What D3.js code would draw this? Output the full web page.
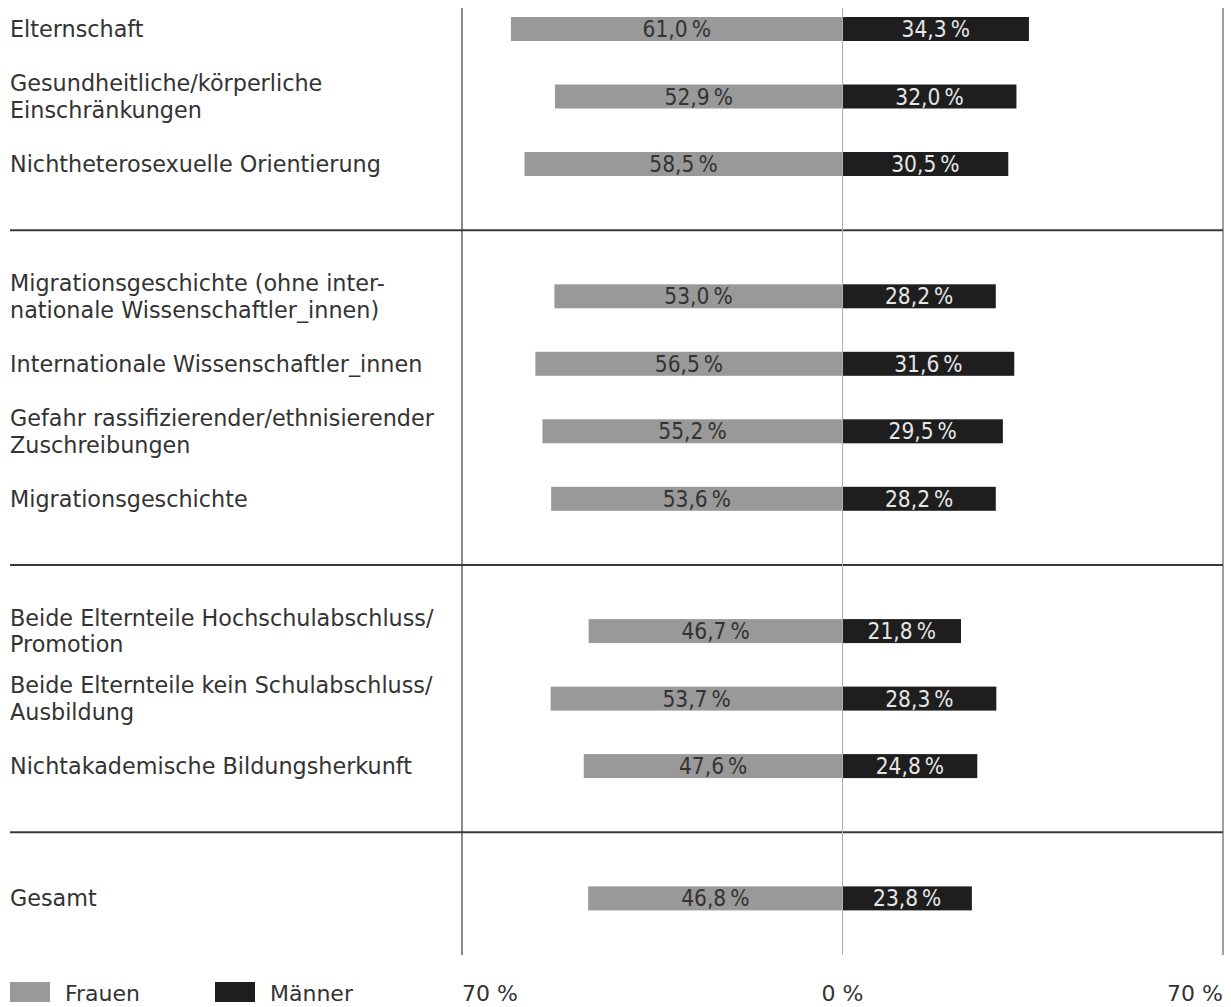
<!DOCTYPE html>
<html>
<head>
<meta charset="utf-8">
<script src="https://cdn.jsdelivr.net/npm/d3@7"></script>
<style>
  body { margin: 0; background: #fff; }
  svg { display: block; font-family: "DejaVu Sans", sans-serif; }
  .val { font-family: "DejaVu Sans Condensed", "DejaVu Sans", sans-serif; font-stretch: condensed; }
</style>
</head>
<body>
<svg width="1231" height="1007"></svg>
<script>
// categories (label lines), their group, and values
const labels = [
  ["Elternschaft"],
  ["Gesundheitliche/körperliche", "Einschränkungen"],
  ["Nichtheterosexuelle Orientierung"],
  ["Migrationsgeschichte (ohne inter-", "nationale Wissenschaftler_innen)"],
  ["Internationale Wissenschaftler_innen"],
  ["Gefahr rassifizierender/ethnisierender", "Zuschreibungen"],
  ["Migrationsgeschichte"],
  ["Beide Elternteile Hochschulabschluss/", "Promotion"],
  ["Beide Elternteile kein Schulabschluss/", "Ausbildung"],
  ["Nichtakademische Bildungsherkunft"],
  ["Gesamt"]
];
const groups = [0, 0, 0, 1, 1, 1, 1, 2, 2, 2, 3];
const frauen = [61.0, 52.9, 58.5, 53.0, 56.5, 55.2, 53.6, 46.7, 53.7, 47.6, 46.8];
const maenner = [34.3, 32.0, 30.5, 28.2, 31.6, 29.5, 28.2, 21.8, 28.3, 24.8, 23.8];
const series = ["Frauen", "Männer"];
const tickLabels = ["70 %", "0 %", "70 %"];

const svg = d3.select("svg");
const fmt = v => d3.format(".1f")(v).replace(".", ",") + "\u2009%";

let x = d3.scaleLinear().domain([-70, 70]).range([462, 1223]);
// row position: row index plus a gap for each group
let y = d3.scaleLinear().domain([0, 1]).range([29, 29 + 67.5]);
const slot = i => i + groups[i] * 0.96;
const barH = 24;

// separators between groups
const seps = [];
for (let i = 1; i < groups.length; i++) {
  if (groups[i] !== groups[i - 1]) seps.push((y(slot(i - 1)) + y(slot(i))) / 2);
}

// vertical frame lines
svg.append("line")
  .attr("x1", x(-70)).attr("x2", x(-70))
  .attr("y1", 8).attr("y2", 955)
  .attr("stroke", "#8a8a8a").attr("stroke-width", 2);
svg.append("line")
  .attr("x1", x(70)).attr("x2", x(70))
  .attr("y1", 8).attr("y2", 955)
  .attr("stroke", "#a0a0a0").attr("stroke-width", 2);

svg.selectAll("line.sep")
  .data(seps)
  .enter()
  .append("line")
  .attr("class", "sep")
  .attr("x1", 10).attr("x2", x(70))
  .attr("y1", d => d).attr("y2", d => d)
  .attr("stroke", "#3a3a3a").attr("stroke-width", 2);

// bars
const rows = svg.selectAll("g.row")
  .data(labels)
  .enter()
  .append("g")
  .attr("class", "row")
  .attr("transform", (d, i) => `translate(0,${y(slot(i))})`);

rows.append("rect")
  .attr("x", (d, i) => x(-frauen[i]))
  .attr("y", -barH / 2)
  .attr("width", (d, i) => x(0) - x(-frauen[i]))
  .attr("height", barH)
  .attr("fill", "#999999");

rows.append("rect")
  .attr("x", x(0))
  .attr("y", -barH / 2)
  .attr("width", (d, i) => x(maenner[i]) - x(0))
  .attr("height", barH)
  .attr("fill", "#1e1e1e");

rows.append("text")
  .attr("class", "val")
  .attr("x", (d, i) => (x(-frauen[i]) + x(0)) / 2)
  .attr("y", 8)
  .attr("text-anchor", "middle")
  .attr("font-size", 22.5)
  .attr("fill", "#333")
  .text((d, i) => fmt(frauen[i]));

rows.append("text")
  .attr("class", "val")
  .attr("x", (d, i) => (x(0) + x(maenner[i])) / 2)
  .attr("y", 8)
  .attr("text-anchor", "middle")
  .attr("font-size", 22.5)
  .attr("fill", "#e6e6e6")
  .text((d, i) => fmt(maenner[i]));

// category labels, one text per line
rows.each(function (d) {
  const g = d3.select(this);
  d.forEach((line, k) => {
    g.append("text")
      .attr("x", 10)
      .attr("y", 8 + (k - (d.length - 1) / 2) * 26.5)
      .attr("font-size", 22.3)
      .attr("fill", "#333")
      .text(line);
  });
});

// center line on top
svg.append("line")
  .attr("x1", x(0)).attr("x2", x(0))
  .attr("y1", 8).attr("y2", 955)
  .attr("stroke", "#b0b0b0").attr("stroke-width", 1);

// axis labels
svg.selectAll("text.tick")
  .data([-70, 0, 70])
  .enter()
  .append("text")
  .attr("class", "tick")
  .attr("x", d => x(d))
  .attr("y", 1001)
  .attr("text-anchor", (d, i) => ["start", "middle", "end"][i])
  .attr("font-size", 22)
  .attr("fill", "#333")
  .text((d, i) => tickLabels[i]);

// legend
const legend = svg.selectAll("g.legend")
  .data(series)
  .enter()
  .append("g")
  .attr("class", "legend")
  .attr("transform", (d, i) => `translate(${10 + i * 205},982)`);

legend.append("rect")
  .attr("width", 40).attr("height", 20)
  .attr("fill", (d, i) => i === 0 ? "#999999" : "#1e1e1e");

legend.append("text")
  .attr("x", 55)
  .attr("y", 19)
  .attr("font-size", 22)
  .attr("fill", "#333")
  .text(d => d);
</script>
</body>
</html>
